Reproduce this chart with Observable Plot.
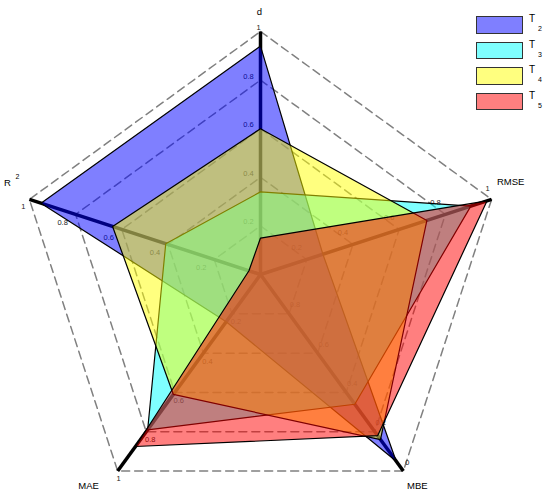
<!DOCTYPE html>
<html>
<head>
<meta charset="utf-8">
<script src="https://cdn.jsdelivr.net/npm/d3@7"></script>
<script src="https://cdn.jsdelivr.net/npm/@observablehq/plot@0.6"></script>
<style>
  html, body { margin: 0; padding: 0; background: #fff; }
  body { font-family: "Liberation Sans", Arial, sans-serif; }
  #wrap { position: relative; width: 550px; height: 492px; }
  #legend { position: absolute; left: 476px; top: 16px; width: 74px; }
  .item { position: relative; height: 25.5px; }
  .sw { position: absolute; left: 0; top: 0; width: 45px; height: 15.5px; border: 1.5px solid #333; }
  .lt { position: absolute; left: 53px; top: -2px; font-size: 10px; line-height: 10px; color: #000; }
  .ls { position: absolute; left: 62px; top: 9px; font-size: 7px; line-height: 7px; color: #000; }
</style>
</head>
<body>
<div id="wrap"><div id="chart"></div><div id="legend"></div></div>
<script>
// ---- data ----
const axisNames = ["d", "RMSE", "MBE", "MAE", "R²"];
const reversedAxes = ["MBE"];          // axis whose outer end is 0
const seriesNames = ["T2", "T3", "T4", "T5"];
const seriesLetters = ["T", "T", "T", "T"];
const seriesSubs = ["2", "3", "4", "5"];
//                 d     RMSE  MBE   MAE    R²
const valuesT2 = [0.94, 0.27, 0.05, 0.24,  0.95];
const valuesT3 = [0.34, 0.91, 0.34, 0.79,  0.41];
const valuesT4 = [0.60, 0.72, 0.16, 0.61,  0.64];
const valuesT5 = [0.15, 0.98, 0.18, 0.875, 0.05];
const seriesColors = ["#0000ff", "#00ffff", "#ffff00", "#ff0000"];
const gridLevels = [0.2, 0.4, 0.6, 0.8, 1];
const tickLabels = ["0.2", "0.4", "0.6", "0.8", "1"];
const tickLabelsReversed = ["0.8", "0.6", "0.4", "0.2", "0"];

// ---- geometry helpers ----
const seriesValues = [valuesT2, valuesT3, valuesT4, valuesT5];
const angleOf = i => (90 - 72 * i) * Math.PI / 180;
const isRev = i => reversedAxes.includes(axisNames[i]);
const frac = (i, v) => isRev(i) ? 1 - v : v;
const px = (i, f) => f * Math.cos(angleOf(i));
const py = (i, f) => f * Math.sin(angleOf(i));

const polys = seriesNames.map((s, k) =>
  axisNames.map((a, i) => {
    const f = frac(i, seriesValues[k][i]);
    return {series: s, axis: a, x: px(i, f), y: py(i, f)};
  }));
const grid = gridLevels.flatMap(l => axisNames.map((a, i) => ({level: l, x: px(i, l), y: py(i, l)})));
const spokes = axisNames.map((a, i) => ({axis: a, x: px(i, 1), y: py(i, 1)}));
const tickRows = axisNames.flatMap((a, i) => gridLevels.map((l, j) => ({
  axis: a, i, j, x: px(i, l), y: py(i, l),
  label: isRev(i) ? tickLabelsReversed[j] : tickLabels[j]
})));

// label offsets (pixels) per axis: inner ticks and outer end tick
const innerOff = [[-12, -4], [-10, -12], [6, -9], [4, 8], [-13, 8]];
const outerOff = [[-2, -4], [-4, -11], [4, -8], [1, 8], [-6, 7]];
const titleOff = [[-1, -20], [19, -17], [14, 15], [-29, 15], [-22, -16]];

const cx = 260, cy = 274, R = 243;

const tickMarks = axisNames.flatMap((a, i) => [
  Plot.text(tickRows.filter(d => d.i === i && d.j < gridLevels.length - 1), {
    x: "x", y: "y", text: "label", dx: innerOff[i][0], dy: innerOff[i][1],
    fontSize: 7.5, fill: "#222"
  }),
  Plot.text(tickRows.filter(d => d.i === i && d.j === gridLevels.length - 1), {
    x: "x", y: "y", text: "label", dx: outerOff[i][0], dy: outerOff[i][1],
    fontSize: 7.5, fill: "#222"
  })
]);

const polyMarks = polys.map((p, k) => Plot.line(p, {
  x: "x", y: "y", curve: "linear-closed",
  fill: seriesColors[k], fillOpacity: 0.5,
  stroke: "#000", strokeWidth: 1.2, strokeLinejoin: "miter"
}));

const titleMarks = axisNames.map((a, i) => {
  const isR2 = a === "R²";
  return Plot.text([spokes[i]], {
    x: "x", y: "y", text: d => isR2 ? "R" : d.axis,
    dx: titleOff[i][0], dy: titleOff[i][1], fontSize: 9.5, fill: "#000"
  });
});
const r2Sup = Plot.text([spokes[4]], {
  x: "x", y: "y", text: () => "2", dx: -12, dy: -23, fontSize: 7, fill: "#000"
});

const chart = Plot.plot({
  width: 550, height: 492,
  marginTop: 0, marginRight: 0, marginBottom: 0, marginLeft: 0,
  x: {type: "linear", domain: [-1, 1], range: [cx - R, cx + R], axis: null},
  y: {type: "linear", domain: [-1, 1], range: [cy + R, cy - R], axis: null},
  style: {background: "#fff", fontFamily: "Liberation Sans, Arial, sans-serif"},
  marks: [
    Plot.line(grid, {x: "x", y: "y", z: "level", curve: "linear-closed",
      stroke: "#808080", strokeWidth: 1.5, strokeDasharray: "8,5", fill: "none"}),
    Plot.link(spokes, {x1: () => 0, y1: () => 0, x2: "x", y2: "y",
      stroke: "#000", strokeWidth: 3.5}),
    ...tickMarks,
    ...polyMarks,
    ...titleMarks,
    r2Sup
  ]
});
document.getElementById("chart").appendChild(chart);

// legend (overlay inside the chart area, top right)
const legend = document.getElementById("legend");
seriesNames.forEach((s, k) => {
  const item = document.createElement("div");
  item.className = "item";
  const c = d3.color(seriesColors[k]); c.opacity = 0.5;
  item.innerHTML = `<div class="sw" style="background:${c.formatRgb()}"></div>` +
    `<span class="lt">${seriesLetters[k]}</span><span class="ls">${seriesSubs[k]}</span>`;
  legend.appendChild(item);
});
</script>
</body>
</html>
